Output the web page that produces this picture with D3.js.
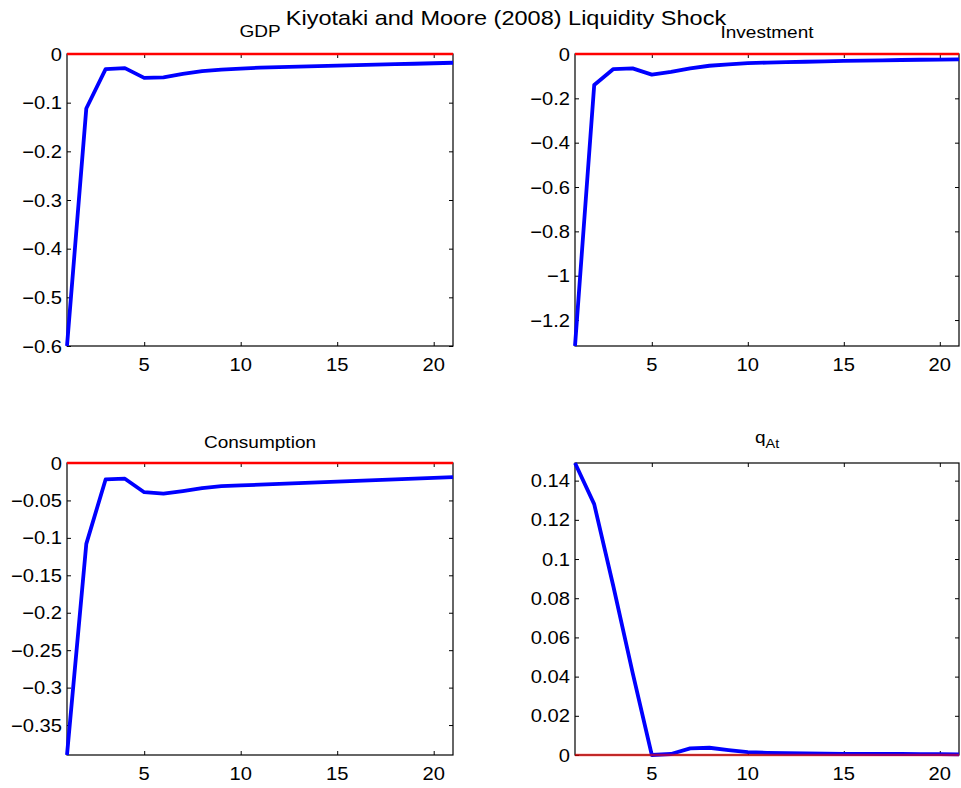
<!DOCTYPE html>
<html>
<head>
<meta charset="utf-8">
<script src="https://cdn.jsdelivr.net/npm/d3@7"></script>
<style>
  body { margin: 0; background: #fff; }
  text { font-family: "Liberation Sans", Arial, sans-serif; fill: #000; }
</style>
</head>
<body>
<div id="chart"></div>
<script>
// impulse responses, periods 1..21
var periods = [1, 2, 3, 4, 5, 6, 7, 8, 9, 10, 11, 12, 13, 14, 15, 16, 17, 18, 19, 20, 21];
var gdp = [-0.600, -0.112, -0.031, -0.029, -0.049, -0.048, -0.041, -0.035, -0.032, -0.030, -0.028,
           -0.027, -0.026, -0.025, -0.024, -0.023, -0.022, -0.021, -0.020, -0.019, -0.018];
var investment = [-1.317, -0.140, -0.068, -0.065, -0.093, -0.081, -0.065, -0.053, -0.047, -0.041, -0.039,
                  -0.037, -0.035, -0.033, -0.031, -0.030, -0.029, -0.027, -0.026, -0.025, -0.024];
var consumption = [-0.390, -0.108, -0.022, -0.021, -0.039, -0.041, -0.0375, -0.0335, -0.031, -0.030, -0.029,
                   -0.028, -0.027, -0.026, -0.025, -0.024, -0.023, -0.022, -0.021, -0.020, -0.019];
var qAt = [0.149, 0.128, 0.086, 0.042, 0.000, 0.0005, 0.0034, 0.0037, 0.0025, 0.0015, 0.0011,
           0.0009, 0.0008, 0.0007, 0.0006, 0.0006, 0.0005, 0.0005, 0.0004, 0.0004, 0.0003];

var xTicks = [5, 10, 15, 20];
var gdpTicks = [-0.6, -0.5, -0.4, -0.3, -0.2, -0.1, 0];
var invTicks = [-1.2, -1, -0.8, -0.6, -0.4, -0.2, 0];
var consTicks = [-0.35, -0.3, -0.25, -0.2, -0.15, -0.1, -0.05, 0];
var qTicks = [0, 0.02, 0.04, 0.06, 0.08, 0.1, 0.12, 0.14];

var mainTitle = "Kiyotaki and Moore (2008) Liquidity Shock";

var width = 961, height = 788;
var SX = 1.12; // text in the original is a bit wider than tall

var svg = d3.select('#chart')
            .append('svg')
            .attr('width', width)
            .attr('height', height);

var panels = [
  { name: 'GDP', values: gdp, ticks: gdpTicks, box: [67, 453, 54, 346], titleY: 37 },
  { name: 'Investment', values: investment, ticks: invTicks, box: [575, 959, 54, 346], titleY: 38 },
  { name: 'Consumption', values: consumption, ticks: consTicks, box: [67, 453, 463, 755], titleY: 448 },
  { name: 'q', sub: 'At', values: qAt, ticks: qTicks, box: [575, 959, 463, 755], titleY: 443 }
];

var fmt = d3.format('~g');

function stretchedText(g, x, y, str, size, anchor) {
  return g.append('text')
    .attr('transform', 'translate(' + x + ',' + y + ') scale(' + SX + ',1)')
    .attr('text-anchor', anchor || 'middle')
    .style('font-size', size + 'px')
    .text(str);
}

panels.forEach(function (p) {
  var left = p.box[0], right = p.box[1], top = p.box[2], bottom = p.box[3];
  var ext = d3.extent(p.values.concat([0]));

  var x = d3.scaleLinear().domain([1, 21]).range([left, right]);
  var y = d3.scaleLinear().domain(ext).range([bottom, top]);

  var g = svg.append('g');

  // ticks inside, on all four sides
  var axes = [
    d3.axisBottom(x).tickValues(xTicks).tickSize(-4).tickFormat(''),
    d3.axisTop(x).tickValues(xTicks).tickSize(-4).tickFormat(''),
    d3.axisLeft(y).tickValues(p.ticks).tickSize(-4).tickFormat(''),
    d3.axisRight(y).tickValues(p.ticks).tickSize(-4).tickFormat('')
  ];
  var shifts = ['translate(0,' + bottom + ')', 'translate(0,' + top + ')',
                'translate(' + left + ',0)', 'translate(' + right + ',0)'];
  axes.forEach(function (a, i) {
    var ag = g.append('g').attr('transform', shifts[i]).call(a);
    ag.select('.domain').remove();
    ag.selectAll('line').attr('stroke', '#000').attr('stroke-width', 1);
  });

  g.append('rect')
   .attr('x', left).attr('y', top)
   .attr('width', right - left).attr('height', bottom - top)
   .attr('fill', 'none').attr('stroke', '#000').attr('stroke-width', 1.2);

  // tick labels
  xTicks.forEach(function (t) {
    stretchedText(g, x(t), bottom + 25, fmt(t), 18, 'middle');
  });
  p.ticks.forEach(function (t) {
    stretchedText(g, left - 5, y(t) + 6.5, fmt(t), 18, 'end');
  });

  // series
  var line = d3.line()
    .x(function (d, i) { return x(periods[i]); })
    .y(function (d) { return y(d); });

  g.append('path')
   .datum(p.values)
   .attr('d', line)
   .attr('fill', 'none')
   .attr('stroke', '#0000ff')
   .attr('stroke-width', 3.8)
   .attr('stroke-linejoin', 'round');

  // zero line
  g.append('line')
   .attr('x1', x(1)).attr('x2', x(21))
   .attr('y1', y(0)).attr('y2', y(0))
   .attr('stroke', '#ff0000')
   .attr('stroke-width', 2.5)
   .attr('opacity', p.sub ? 0.6 : 1);

  // panel title
  var cx = (left + right) / 2;
  if (p.sub) {
    var t = g.append('text')
      .attr('transform', 'translate(' + (cx - 12) + ',' + p.titleY + ') scale(' + SX + ',1)')
      .style('font-size', '17px');
    t.append('tspan').text(p.name);
    t.append('tspan').attr('dy', 5).style('font-size', '13px').text(p.sub);
  } else {
    stretchedText(g, cx, p.titleY, p.name, 17, 'middle');
  }
});

stretchedText(svg, 506, 25, mainTitle, 21, 'middle');
</script>
</body>
</html>
